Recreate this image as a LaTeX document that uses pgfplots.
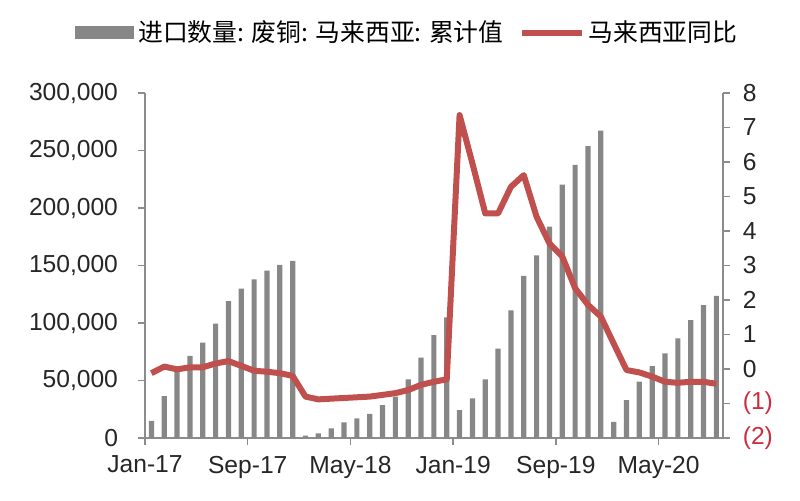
\documentclass[border=0pt]{standalone}
\usepackage{pgfplots}
\pgfplotsset{compat=1.18}
\usepackage{fontspec}
\setmainfont{Liberation Sans}
\newfontfamily\cjk{Noto Sans CJK SC}
\definecolor{bargray}{RGB}{135,135,135}
\definecolor{linered}{RGB}{192,80,77}
\definecolor{negred}{RGB}{205,45,65}
\definecolor{axgray}{RGB}{140,140,140}

\pgfplotstableread{
x y
0 15000
1 36500
2 61000
3 71500
4 83000
5 99500
6 119000
7 130000
8 138000
9 145500
10 150500
11 154000
12 2000
13 4000
14 8400
15 13600
16 17000
17 21000
18 28700
19 36000
20 51000
21 70000
22 89500
23 105000
24 24300
25 34500
26 51000
27 77700
28 111000
29 141000
30 158800
31 183800
32 220300
33 237400
34 253900
35 267200
36 14000
37 33000
38 49000
39 62600
40 73600
41 86700
42 102600
43 115600
44 123500
}\bars

\pgfplotstableread{
x y
0 -0.12
1 0.07
2 -0.01
3 0.05
4 0.05
5 0.16
6 0.23
7 0.09
8 -0.05
9 -0.08
10 -0.12
11 -0.20
12 -0.80
13 -0.88
14 -0.86
15 -0.84
16 -0.82
17 -0.80
18 -0.75
19 -0.70
20 -0.61
21 -0.46
22 -0.37
23 -0.30
24 7.36
25 5.96
26 4.51
27 4.51
28 5.28
29 5.62
30 4.41
31 3.64
32 3.26
33 2.34
34 1.86
35 1.52
36 0.74
37 -0.03
38 -0.10
39 -0.22
40 -0.37
41 -0.40
42 -0.37
43 -0.37
44 -0.43
}\yoy

\pgfplotsset{
  common/.style={
    scale only axis, width=288.9pt, height=172.5pt,
    xmin=-0.5, xmax=44.5,
    at={(0pt,0pt)}, anchor=south west,
    tick align=outside, major tick length=3.5pt,
    tick style={axgray, line width=0.75pt},
    axis line style={axgray, line width=0.75pt, -},
    ticklabel style={font=\fontsize{12.3}{14}\selectfont, text=black!85},
    /pgf/number format/assume math mode=true,
  }
}

\begin{document}
\begin{tikzpicture}
\path[use as bounding box] (-72.5pt,-31pt) rectangle (327.5pt,219pt);
\begin{axis}[
  common,
  axis y line*=left, axis x line*=bottom,
  ymin=0, ymax=300000,
  ytick={0,50000,100000,150000,200000,250000,300000},
  scaled y ticks=false,
  y tick label style={xshift=-6.5pt, /pgf/number format/.cd, fixed, 1000 sep={,}},
  x tick label style={yshift=-2pt},
  xtick={-0.5,7.5,15.5,23.5,31.5,39.5},
  xticklabels={Jan-17,Sep-17,May-18,Jan-19,Sep-19,May-20},
]
\addplot[ybar, bar width=2.6pt, fill=bargray, draw=none] table[x=x,y=y] {\bars};
\end{axis}
\begin{axis}[
  common,
  axis y line*=right, axis x line=none,
  ymin=-2, ymax=8,
  ytick={-2,-1,0,1,2,3,4,5,6,7,8},
  y tick label style={xshift=3pt},
  yticklabels={{\textcolor{negred}{(2)}},{\textcolor{negred}{(1)}},0,1,2,3,4,5,6,7,8},
  legend style={at={(axis description cs:-0.121,1.175)}, anchor=west,
    draw=none, fill=none, inner sep=0pt, legend columns=2,
    font=\fontsize{12.4}{14}\selectfont,
    /tikz/every even column/.append style={column sep=5.5pt}},
  legend cell align=left,
]
\addlegendimage{legend image code/.code={\fill[bargray] (0pt,-3pt) rectangle (29pt,3pt);}}
\addlegendentry{\cjk 进口数量: 废铜: 马来西亚: 累计值}
\addplot[linered, line width=3pt, line join=round,
  legend image code/.code={\draw[linered, line width=3pt] (0pt,0pt) -- (30pt,0pt);}]
  table[x=x,y=y] {\yoy};
\addlegendentry{\cjk 马来西亚同比}
\end{axis}
\end{tikzpicture}
\end{document}
